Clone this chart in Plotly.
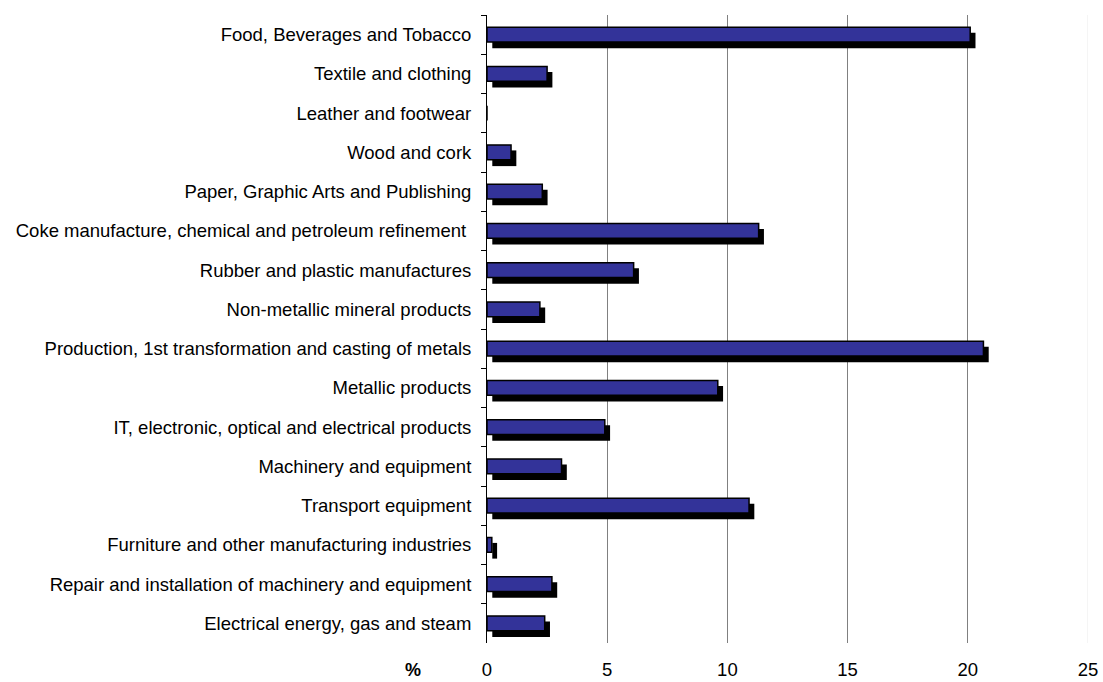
import plotly.graph_objects as go

categories = [
    "Food, Beverages and Tobacco",
    "Textile and clothing",
    "Leather and footwear",
    "Wood and cork",
    "Paper, Graphic Arts and Publishing",
    "Coke manufacture, chemical and petroleum refinement ",
    "Rubber and plastic manufactures",
    "Non-metallic mineral products",
    "Production, 1st transformation and casting of metals",
    "Metallic products",
    "IT, electronic, optical and electrical products",
    "Machinery and equipment",
    "Transport equipment",
    "Furniture and other manufacturing industries",
    "Repair and installation of machinery and equipment",
    "Electrical energy, gas and steam",
]
values = [20.1, 2.5, 0.0, 1.0, 2.3, 11.3, 6.1, 2.2, 20.65, 9.6, 4.9, 3.1, 10.9, 0.2, 2.7, 2.4]
x_ticks = [0, 5, 10, 15, 20, 25]

shadow_shift = 0.22
bar_w = 0.38

fig = go.Figure()
fig.add_trace(go.Bar(
    y=categories, x=values, base=[shadow_shift] * len(values), orientation="h",
    marker=dict(color="black", line=dict(width=0)),
    width=bar_w + 0.02, offset=-bar_w / 2 + 0.14, hoverinfo="skip", showlegend=False,
))
fig.add_trace(go.Bar(
    y=categories, x=values, orientation="h",
    marker=dict(color="#333399", line=dict(color="black", width=1.5)),
    width=bar_w, offset=-bar_w / 2, showlegend=False,
))

fig.add_shape(type="line", xref="x", yref="paper", x0=x_ticks[-1], x1=x_ticks[-1],
              y0=0, y1=1, line=dict(color="#ebebeb", width=1), layer="below")

fig.update_layout(
    width=1103, height=682,
    margin=dict(l=487, r=15, t=15, b=39),
    barmode="overlay",
    plot_bgcolor="white", paper_bgcolor="white",
    font=dict(family="Liberation Sans, Arial, sans-serif", size=18.5, color="black"),
    xaxis=dict(
        range=[0, 25], tickvals=x_ticks, ticktext=[str(v) for v in x_ticks],
        showgrid=True, gridcolor="#808080", gridwidth=1,
        zeroline=False, showline=False, ticks="", ticklabelstandoff=13,
        tickfont=dict(size=18.5), automargin=False,
    ),
    yaxis=dict(
        type="category", categoryorder="array", categoryarray=categories,
        autorange="reversed", showline=True, linecolor="black", linewidth=1,
        ticks="outside", ticklen=5, tickcolor="black", tickson="boundaries",
        showgrid=False, zeroline=False, ticklabelstandoff=11, automargin=False,
    ),
    annotations=[dict(
        text="<b>%</b>", xref="paper", yref="paper", x=-0.123, y=-0.043,
        xanchor="center", yanchor="middle", showarrow=False,
        font=dict(size=18, color="black"),
    )],
)

fig.write_html("out.html", config={"displayModeBar": False},
               post_script="document.body.style.margin='0';")
